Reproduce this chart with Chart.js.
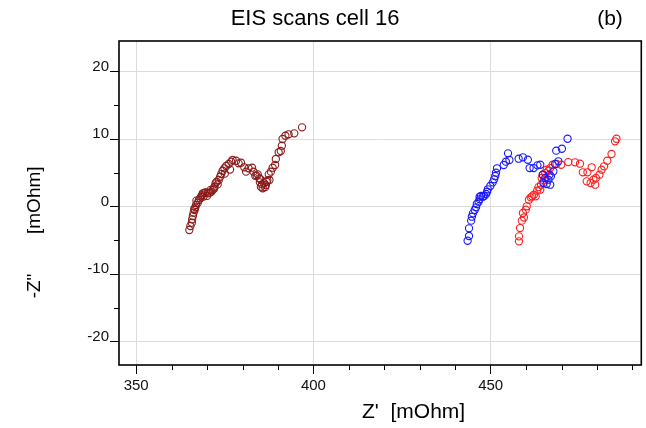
<!DOCTYPE html>
<html><head><meta charset="utf-8">
<script src="https://cdn.jsdelivr.net/npm/chart.js@4/dist/chart.umd.min.js"></script>
<style>html,body{margin:0;padding:0;background:#fff}canvas{display:block}</style>
</head><body><canvas id="c" width="646" height="428"></canvas>
<script>
const chartTitle = "EIS scans cell 16";
const panelLabel = "(b)";
const xTitle = "Z'  [mOhm]";
const yTitleVar = '-Z"';
const yTitleUnit = '[mOhm]';
const xMajorTicks = [350, 400, 450];
const yMajorTicks = [-20, -10, 0, 10, 20];

const darkRedX = [365.0,365.3,365.7,365.8,366.0,366.2,366.5,366.7,366.9,367.4,367.7,368.1,368.3,368.8,369.3,369.7,370.2,370.7,371.2,371.6,372.1,372.4,372.7,373.3,373.7,374.0,374.4,374.9,375.4,376.1,376.8,377.2,378.2,378.9,379.6,380.5,381.0,381.7,382.7,383.1,383.6,384.3,384.7,384.9,385.2,385.7,386.1,386.8,387.6,387.4,388.0,388.5,389.2,389.4,390.2,390.8,391.1,391.3,392.1,393.0,394.6,396.8,366.4,367.0,368.6,369.0,370.0,371.0,372.0,373.0,375.0,376.5,385.5,386.4,385.0,384.0,386.6,387.0];
const darkRedY = [-3.45,-2.86,-2.37,-1.87,-1.38,-0.89,-0.49,-0.09,0.25,0.59,0.99,1.24,1.48,1.99,2.07,2.13,1.99,2.07,2.22,2.47,2.96,3.47,3.70,3.96,4.44,4.84,5.33,5.69,6.03,6.33,6.67,6.92,6.81,6.43,6.52,5.84,5.19,5.69,5.78,5.19,4.59,4.80,4.21,3.61,2.96,2.73,3.47,3.70,3.96,4.80,5.19,5.78,6.18,7.07,8.06,8.25,9.04,10.03,10.52,10.73,10.87,11.76,-0.3,0.9,1.7,1.5,1.6,2.5,2.7,3.3,4.9,5.5,3.3,2.9,4.1,4.6,3.2,3.9];

const blueX = [443.5,443.9,443.9,444.5,444.7,445.0,445.5,445.9,446.1,446.6,446.9,446.9,447.3,447.8,448.2,448.7,449.0,449.2,449.9,450.6,451.0,451.3,451.5,451.8,453.7,454.3,454.9,455.3,457.9,459.1,460.5,461.0,462.1,463.2,464.0,464.7,465.4,464.9,465.8,466.8,466.3,467.0,467.7,466.6,468.2,469.1,468.5,470.1,471.7];
const blueY = [-5.04,-4.34,-3.20,-2.07,-1.48,-0.98,-0.49,-0.09,0.40,0.74,1.10,1.48,1.59,1.48,1.59,1.88,2.22,2.58,3.07,3.61,4.06,4.55,5.04,5.69,6.18,6.67,7.91,6.92,7.11,7.32,6.96,5.73,5.73,6.13,6.22,4.74,4.25,3.51,3.36,3.26,4.00,4.50,5.24,4.74,6.33,6.73,8.30,8.59,10.07];

const redX = [458.0,458.0,458.3,458.8,459.1,459.9,460.2,460.8,461.3,461.7,462.2,462.7,463.1,464.0,464.2,464.4,464.7,465.4,465.8,466.3,466.8,467.5,468.6,469.9,471.9,473.8,475.2,476.0,477.3,478.5,477.1,478.2,479.5,479.0,479.7,480.7,481.3,482.0,482.9,484.1,485.1,485.5,459.4,463.5,465.0];
const redY = [-5.13,-4.39,-3.16,-2.07,-0.93,-0.44,0.06,1.04,1.39,1.54,1.78,1.54,2.37,2.52,3.26,4.25,4.74,4.99,5.48,5.33,5.73,6.22,6.33,6.22,6.62,6.58,6.37,5.10,5.10,5.84,3.76,3.51,3.26,4.00,4.25,4.74,5.48,5.99,6.81,7.81,9.69,10.07,-1.6,2.9,3.9];

const toPts = (xs, ys) => xs.map((x, i) => ({x, y: ys[i]}));
const FONT = '"Liberation Sans", Arial, sans-serif';

const deco = {
  id: 'deco',
  afterDraw(chart) {
    const ctx = chart.ctx, a = chart.chartArea, xs = chart.scales.x, ys = chart.scales.y;
    ctx.save();
    ctx.strokeStyle = '#000';
    ctx.lineWidth = 1;
    xs.ticks.forEach(t => {
      if (!xMajorTicks.includes(t.value)) {
        const p = Math.round(xs.getPixelForValue(t.value)) + 0.5;
        ctx.beginPath(); ctx.moveTo(p, a.bottom); ctx.lineTo(p, a.bottom + 5); ctx.stroke();
      }
    });
    ys.ticks.forEach(t => {
      if (!yMajorTicks.includes(t.value)) {
        const p = Math.round(ys.getPixelForValue(t.value)) + 0.5;
        ctx.beginPath(); ctx.moveTo(a.left, p); ctx.lineTo(a.left - 5, p); ctx.stroke();
      }
    });
    ctx.lineWidth = 1.6;
    ctx.strokeRect(a.left, a.top, a.right - a.left, a.bottom - a.top);
    ctx.fillStyle = '#000';
    ctx.textBaseline = 'middle';
    ctx.font = '22px ' + FONT;
    ctx.textAlign = 'center';
    ctx.fillText(chartTitle, 315, 19);
    ctx.font = '21px ' + FONT;
    ctx.fillText(panelLabel, 610, 19);
    ctx.textAlign = 'left';
    ctx.fillText(xTitle, 362, 412);
    ctx.font = '19px ' + FONT;
    ctx.translate(35, 0);
    ctx.rotate(-Math.PI / 2);
    ctx.textAlign = 'center';
    ctx.fillText(yTitleVar, -286, 0);
    ctx.textAlign = 'left';
    ctx.fillText(yTitleUnit, -234, 0);
    ctx.restore();
  }
};

const mk = (label, xs, ys, color) => ({
  label, data: toPts(xs, ys), showLine: false,
  borderColor: color, backgroundColor: 'rgba(0,0,0,0)',
  pointRadius: 3.6, pointBorderWidth: 1.1, pointHoverRadius: 3.6
});

new Chart(document.getElementById('c'), {
  type: 'scatter',
  data: { datasets: [
    mk('scan 1', darkRedX, darkRedY, '#8b1a1a'),
    mk('scan 2', blueX, blueY, '#1a1aff'),
    mk('scan 3', redX, redY, '#ff2020')
  ]},
  options: {
    responsive: false, animation: false,
    layout: { padding: { left: 0, right: 3, top: 41, bottom: 0 } },
    plugins: { legend: { display: false }, tooltip: { enabled: false } },
    scales: {
      x: {
        type: 'linear', min: 345.16, max: 492.5,
        border: { display: false },
        afterFit: s => { s.height = 63; },
        grid: {
          tickLength: 9,
          color: c => xMajorTicks.includes(c.tick.value) ? '#dcdcdc' : 'rgba(0,0,0,0)',
          tickColor: c => xMajorTicks.includes(c.tick.value) ? '#000' : 'rgba(0,0,0,0)'
        },
        ticks: {
          stepSize: 10, includeBounds: false, autoSkip: false, maxRotation: 0, padding: 3,
          color: '#111', font: { family: FONT, size: 15 },
          callback: v => xMajorTicks.includes(v) ? String(v) : ''
        }
      },
      y: {
        type: 'linear', min: -23.45, max: 24.55,
        border: { display: false },
        afterFit: s => { s.width = 119; },
        grid: {
          tickLength: 9,
          color: c => yMajorTicks.includes(c.tick.value) ? '#dcdcdc' : 'rgba(0,0,0,0)',
          tickColor: c => yMajorTicks.includes(c.tick.value) ? '#000' : 'rgba(0,0,0,0)'
        },
        ticks: {
          stepSize: 5, includeBounds: false, autoSkip: false, padding: 1, labelOffset: -5,
          color: '#111', font: { family: FONT, size: 15 },
          callback: v => yMajorTicks.includes(v) ? String(v) : ''
        }
      }
    }
  },
  plugins: [deco]
});
</script>
</body></html>
